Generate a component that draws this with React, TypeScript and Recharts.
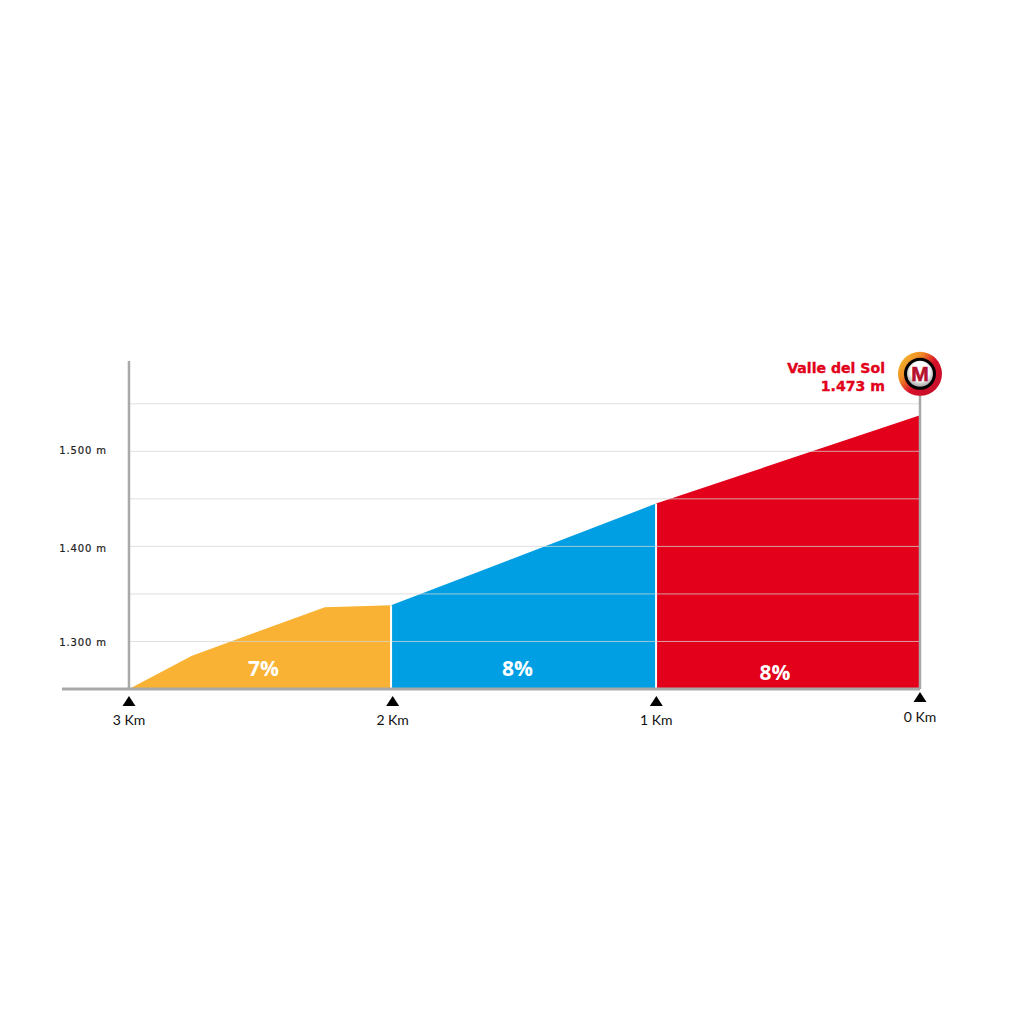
import {
  Area,
  ComposedChart,
  ReferenceDot,
  ReferenceLine,
  XAxis,
  YAxis,
} from "recharts";

// km to go
const kmToGo = [3, 2.761, 2.257, 2.006, 1.001, 0];
const climbElevation = [1250, 1285, 1336, 1338, 1445, 1538];
const orangeStretch = [1250, 1285, 1336, 1338, null, null];
const blueStretch = [null, null, null, 1338, 1445, null];
const redStretch = [null, null, null, null, 1445, 1538];

const kmTicks = [0, 1, 2, 3];
const gridLevels = [1300, 1350, 1400, 1450, 1500, 1550];
const elevationTicks = [1300, 1400, 1500];

const gradeLabels = ["7%", "8%", "8%"];
const gradeKm = [2.49, 1.527, 0.55];
const gradeElevation = [1272, 1272, 1268];

const summitName = "Valle del Sol";
const summitElevation = "1.473 m";
const summitMarkerLevel = 1581.5;

const stretchBreaks = [2.006, 1.001];

const chartData = kmToGo.map((km, i) => ({
  km,
  elevation: climbElevation[i],
  orange: orangeStretch[i],
  blue: blueStretch[i],
  red: redStretch[i],
}));

const AXIS_GREY = "#a9a9a9";
const RED = "#e2001a";

function KmTick({ x, y, payload }: any) {
  // the finish marker sits a little higher than the others
  const lift = payload.value === 0 ? -4 : 0;
  const top = y + 7 + lift;
  return (
    <g>
      <path d={`M${x} ${top}L${x + 6.5} ${top + 10}L${x - 6.5} ${top + 10}Z`} fill="#000" />
      <text
        x={x}
        y={y + 36 + (payload.value === 0 ? -3 : 0)}
        textAnchor="middle"
        fontFamily="Lato, sans-serif"
        fontSize={14}
        fill="#111"
      >
        {`${payload.value} Km`}
      </text>
    </g>
  );
}

function ElevationTick({ x, y, payload }: any) {
  const nudge = payload.value === 1500 ? 3 : payload.value === 1400 ? 6 : 5;
  return (
    <text
      x={x + 45}
      y={y + nudge}
      textAnchor="end"
      fontFamily="'DejaVu Sans', sans-serif"
      fontSize={10}
      letterSpacing={0.9}
      stroke="#222"
      strokeWidth={0.2}
      fill="#222"
    >
      {`${String(payload.value)[0]}.${String(payload.value).slice(1)} m`}
    </text>
  );
}

function GradeLabel({ viewBox, value }: any) {
  return (
    <text
      x={viewBox.x + viewBox.width / 2}
      y={viewBox.y + viewBox.height / 2 + 8}
      textAnchor="middle"
      fontFamily="'Open Sans', sans-serif"
      fontWeight={700}
      fontSize={21}
      fill="#fff"
    >
      {value}
    </text>
  );
}

function SummitMarker({ cx, cy }: any) {
  return (
    <g>
      <defs>
        <linearGradient id="summitRing" x1="0" y1="0.1" x2="0.85" y2="0.8">
          <stop offset="0%" stopColor="#f6c32f" />
          <stop offset="35%" stopColor="#ef8a24" />
          <stop offset="65%" stopColor="#d8102a" />
          <stop offset="100%" stopColor="#c8102a" />
        </linearGradient>
        <radialGradient id="summitCore" cx="0.5" cy="0.4" r="0.7">
          <stop offset="50%" stopColor="#ffffff" />
          <stop offset="100%" stopColor="#7f7f7f" />
        </radialGradient>
      </defs>
      <circle cx={cx} cy={cy} r={22} fill="url(#summitRing)" />
      <circle cx={cx} cy={cy} r={16} fill="#000" />
      <circle cx={cx} cy={cy} r={13} fill="url(#summitCore)" />
      <text
        x={cx}
        y={cy + 7.5}
        textAnchor="middle"
        fontFamily="'Liberation Sans', sans-serif"
        fontWeight={700}
        fontSize={21}
        stroke="#b5122e"
        strokeWidth={0.6}
        fill="#b5122e"
      >
        M
      </text>
      <g
        textAnchor="end"
        fontFamily="'DejaVu Sans', sans-serif"
        fontWeight={700}
        fontSize={14.1}
        stroke={RED}
        strokeWidth={0.35}
        fill={RED}
      >
        <text x={cx - 35} y={cy - 1}>
          {summitName}
        </text>
        <text x={cx - 35} y={cy + 17}>
          {summitElevation}
        </text>
      </g>
    </g>
  );
}

export default function App() {
  return (
    <div style={{ position: "absolute", left: 0, top: 0, width: 1024, height: 1024 }}>
      <ComposedChart
        width={1024}
        height={1024}
        data={chartData}
        margin={{ top: 361, right: 104, bottom: 295, left: 0 }}
      >
        <XAxis
          type="number"
          dataKey="km"
          reversed
          domain={[0, 3.254]}
          ticks={kmTicks}
          interval={0}
          height={40}
          tickLine={false}
          tickSize={0}
          tickMargin={0}
          axisLine={{ stroke: AXIS_GREY, strokeWidth: 3 }}
          tick={<KmTick />}
        />
        <YAxis
          type="number"
          domain={[1250, 1595]}
          ticks={elevationTicks}
          interval={0}
          width={62}
          tickLine={false}
          tickSize={0}
          tickMargin={0}
          axisLine={false}
          tick={<ElevationTick />}
        />

        <Area dataKey="orange" type="linear" stroke="none" fill="#f9b233" fillOpacity={1} isAnimationActive={false} dot={false} activeDot={false} />
        <Area dataKey="blue" type="linear" stroke="none" fill="#009fe3" fillOpacity={1} isAnimationActive={false} dot={false} activeDot={false} />
        <Area dataKey="red" type="linear" stroke="none" fill={RED} fillOpacity={1} isAnimationActive={false} dot={false} activeDot={false} />

        {gridLevels.map((level) => (
          <ReferenceLine
            key={level}
            segment={[
              { x: 3, y: level },
              { x: 0, y: level },
            ]}
            stroke="#d4d4d4"
            strokeOpacity={0.75}
            strokeWidth={1}
          />
        ))}

        {stretchBreaks.map((km) => (
          <ReferenceLine
            key={km}
            segment={[
              { x: km, y: 1250 },
              { x: km, y: climbElevation[kmToGo.indexOf(km)] },
            ]}
            stroke="#fff"
            strokeWidth={2}
          />
        ))}

        <ReferenceLine
          segment={[
            { x: 3, y: 1250 },
            { x: 3, y: 1595 },
          ]}
          stroke={AXIS_GREY}
          strokeWidth={2.5}
        />
        <ReferenceLine
          segment={[
            { x: 0, y: 1250 },
            { x: 0, y: summitMarkerLevel },
          ]}
          stroke={AXIS_GREY}
          strokeWidth={2.5}
        />

        {gradeLabels.map((grade, i) => (
          <ReferenceDot
            key={i}
            x={gradeKm[i]}
            y={gradeElevation[i]}
            r={0}
            stroke="none"
            fill="none"
            label={<GradeLabel value={grade} />}
          />
        ))}

        <ReferenceDot x={0} y={summitMarkerLevel} shape={<SummitMarker />} />
      </ComposedChart>
    </div>
  );
}
